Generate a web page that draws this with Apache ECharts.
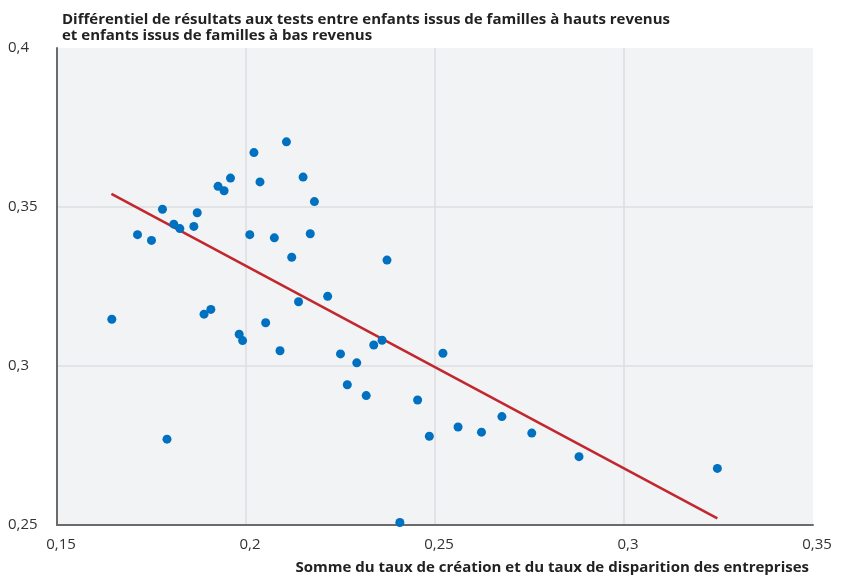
<!DOCTYPE html>
<html>
<head>
<meta charset="utf-8">
<script src="https://cdn.jsdelivr.net/npm/echarts@6/dist/echarts.min.js"></script>
<style>
html,body{margin:0;padding:0;background:#fff;}
#chart{width:841px;height:575px;}
</style>
</head>
<body>
<div id="chart"></div>
<script>
// Data
const xValues = [0.2107,0.2021,0.1959,0.1926,0.1942,0.2037,0.2151,0.2181,0.1779,0.1871,
  0.1809,0.1825,0.1862,0.1713,0.1750,0.2010,0.2075,0.2170,0.2121,
  0.1645,0.1889,0.1907,0.1982,0.1991,0.2052,0.2090,0.2139,0.2216,0.2250,0.2268,0.1791,
  0.2373,0.2338,0.2360,0.2293,0.2318,0.2454,0.2521,
  0.2485,0.2561,0.2623,0.2677,0.2756,0.2881,0.3247,0.2407];
const yValues = [0.3705,0.3671,0.3591,0.3565,0.3551,0.3579,0.3594,0.3517,0.3493,0.3482,
  0.3446,0.3432,0.3439,0.3413,0.3395,0.3413,0.3403,0.3416,0.3342,
  0.3147,0.3163,0.3178,0.3100,0.3080,0.3136,0.3048,0.3202,0.3219,0.3038,0.2941,0.2770,
  0.3333,0.3066,0.3081,0.3010,0.2907,0.2893,0.3040,
  0.2779,0.2808,0.2792,0.2841,0.2789,0.2715,0.2678,0.2508];
const trendX = [0.1644, 0.3247];
const trendY = [0.3541, 0.2521];
const xTicks = [0.15, 0.2, 0.25, 0.3, 0.35];
const yTicks = [0.25, 0.3, 0.35, 0.4];
const titleLines = ["Différentiel de résultats aux tests entre enfants issus de familles à hauts revenus",
  "et enfants issus de familles à bas revenus"];
const xAxisTitle = "Somme du taux de création et du taux de disparition des entreprises";

const points = xValues.map((x, i) => [x, yValues[i]]);
const trend = trendX.map((x, i) => [x, trendY[i]]);
const fmt = v => String(Math.round(v * 100) / 100).replace('.', ',');

const chart = echarts.init(document.getElementById('chart'), null, {renderer: 'canvas'});
const FONT = '"Open Sans", "DejaVu Sans", sans-serif';
chart.setOption({
  animation: false,
  backgroundColor: '#ffffff',
  title: [
    {text: titleLines.join('\n'), left: 57, top: 7,
     textStyle: {fontFamily: FONT, fontSize: 15, fontWeight: 'bold', color: '#222', lineHeight: 16}},
    {text: xAxisTitle, right: 27, top: 555,
     textStyle: {fontFamily: FONT, fontSize: 15, fontWeight: 'bold', color: '#222'}}
  ],
  grid: {left: 57, right: 28, top: 48, bottom: 50, containLabel: false,
         show: true, backgroundColor: '#f1f3f5', borderWidth: 0},
  xAxis: {
    type: 'value', min: xTicks[0], max: xTicks[xTicks.length - 1], interval: 0.05,
    axisLine: {show: true, lineStyle: {color: '#6b6b6b', width: 2}},
    axisTick: {show: false},
    axisLabel: {fontFamily: FONT, fontSize: 15, color: '#333', margin: 12,
                padding: [0, 0, 0, 8], formatter: fmt},
    splitLine: {show: true, showMinLine: false, showMaxLine: false,
                lineStyle: {color: '#dcdee0', width: 1.5}}
  },
  yAxis: {
    type: 'value', min: yTicks[0], max: yTicks[yTicks.length - 1], interval: 0.05,
    axisLine: {show: true, lineStyle: {color: '#6b6b6b', width: 2}},
    axisTick: {show: false},
    axisLabel: {fontFamily: FONT, fontSize: 15, color: '#333', margin: 49, align: 'left',
                formatter: fmt},
    splitLine: {show: true, showMinLine: false, showMaxLine: false,
                lineStyle: {color: '#dcdee0', width: 1.5}}
  },
  series: [
    {type: 'line', data: trend, symbol: 'none', z: 2,
     lineStyle: {color: '#c1272d', width: 2.5}},
    {type: 'scatter', data: points, symbolSize: 9, z: 3,
     itemStyle: {color: '#0070c0', opacity: 1}}
  ]
});
</script>
</body>
</html>
